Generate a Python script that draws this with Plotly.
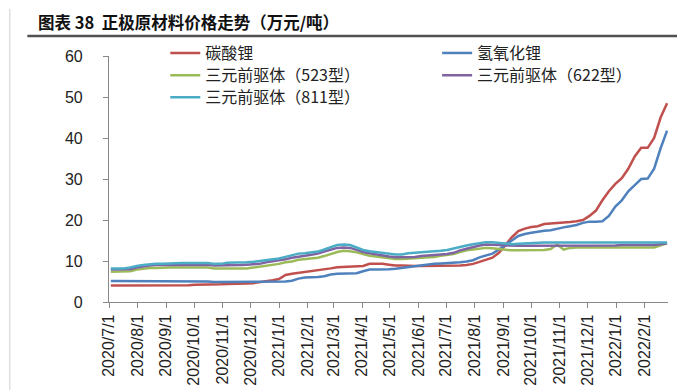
import pandas as pd
import plotly.graph_objects as go

# ---------------- data ----------------
dates = pd.date_range("2020-07-03", periods=87, freq="7D")

tick_dates = pd.date_range("2020-07-01", "2022-02-01", freq="MS")
tick_labels = [f"{d.year}/{d.month}/{d.day}" for d in tick_dates]

series_names = ["碳酸锂", "氢氧化锂", "三元前驱体（523型）", "三元前驱体（622型）", "三元前驱体（811型）"]

li2co3 = [4.0, 4.0, 4.0, 4.0, 4.0, 4.0, 4.0, 4.0, 4.0,
          4.1, 4.1, 4.1, 4.1, 4.2, 4.2, 4.2, 4.3, 4.3, 4.4, 4.4, 4.5, 4.5,
          4.6, 4.8, 5.0, 5.3, 5.6, 6.6, 6.9, 7.1, 7.3, 7.5, 7.7, 7.9, 8.2, 8.5,
          8.6, 8.7, 8.8, 8.8, 9.3, 9.3, 9.3, 9.1, 8.9, 8.9,
          8.8, 8.8, 8.8, 8.8, 8.8, 8.8, 8.8, 8.8,
          8.9, 9.0, 9.3, 9.8, 10.3, 10.8, 12.0, 13.8, 15.8, 17.3, 17.9, 18.3, 18.5,
          19.0, 19.1, 19.2, 19.4, 19.5, 19.7, 20.0, 21.0, 22.3, 24.8, 27.0, 28.8,
          30.2, 32.5, 35.5, 37.6, 37.6, 40.0, 45.0, 48.5]

lioh = [5.1, 5.1, 5.1, 5.1, 5.1,
        5.0, 5.0, 5.0, 5.0, 5.0, 5.0, 5.0, 5.0, 5.0, 5.0, 5.0,
        4.9, 4.9, 4.9, 4.9, 4.9, 4.9, 4.9, 4.9, 4.9, 4.9,
        5.0, 5.0, 5.2, 5.7, 6.0, 6.0, 6.1, 6.3, 6.7, 6.9,
        6.9, 6.9, 7.0, 7.5, 7.9, 7.9, 7.9, 8.0, 8.1, 8.3,
        8.5, 8.7, 9.0, 9.2, 9.3, 9.4, 9.5, 9.5, 9.7, 9.9,
        10.2, 10.9, 11.3, 11.8, 12.8, 13.8, 15.0, 16.1, 16.6, 16.9,
        17.2, 17.4, 17.5, 17.9, 18.2, 18.5, 18.8, 19.3, 19.6, 19.6,
        19.7, 21.0, 23.3, 24.8, 27.0, 28.5, 30.0, 30.1, 32.5, 37.5,
        41.8]

ncm523 = [7.4, 7.4, 7.4, 7.5, 7.9, 8.1, 8.3, 8.3, 8.4, 8.4,
          8.4, 8.4, 8.4, 8.4, 8.4, 8.4,
          8.2, 8.2, 8.2, 8.2, 8.2, 8.2,
          8.4, 8.6, 8.8, 9.0, 9.3, 9.7, 9.9, 10.3, 10.5, 10.7,
          10.8, 11.2, 11.7, 12.2, 12.5, 12.4, 12.1, 11.7, 11.3, 11.1,
          10.9, 10.7, 10.5, 10.5, 10.6, 10.7, 10.8, 10.8, 11.0, 11.3,
          11.5, 11.7, 12.2, 12.6, 12.8, 13.0, 13.2, 13.1, 12.9, 12.7,
          12.6, 12.6, 12.6, 12.6, 12.6, 12.7, 12.9, 14.0, 12.8, 13.2,
          13.3, 13.3, 13.3, 13.3, 13.3, 13.3, 13.3, 13.3, 13.3, 13.3, 13.3, 13.3, 13.3,
          13.8, 14.3]

ncm622 = [7.9, 7.9, 7.9, 8.0, 8.4, 8.7, 8.9, 9.0, 9.0, 9.1,
          9.1, 9.1, 9.1, 9.1, 9.1, 9.1,
          8.9, 8.9, 9.0, 9.0, 9.0, 9.1, 9.2,
          9.3, 9.7, 9.9, 10.1, 10.4, 10.8, 11.1, 11.3, 11.5, 11.8,
          12.3, 12.8, 13.2, 13.3, 13.2, 12.7, 12.2, 11.9, 11.6, 11.4,
          11.1, 10.9, 10.9, 10.9, 11.0, 11.2, 11.3, 11.4, 11.6, 11.7,
          12.0, 12.6, 13.0, 13.4, 13.8, 14.0, 14.0, 13.9, 13.8,
          13.7, 13.7, 13.7, 13.7, 13.7, 13.7, 13.7, 13.7, 13.7,
          13.8, 13.8, 13.8, 13.8, 13.8, 13.8, 13.8, 13.8,
          13.9, 13.9, 13.9, 13.9, 13.9, 13.9,
          14.1, 14.3]

ncm811 = [8.2, 8.2, 8.2, 8.4, 8.8, 9.0, 9.2, 9.3, 9.3, 9.4,
          9.5, 9.5, 9.5, 9.5, 9.5, 9.5,
          9.3, 9.3, 9.6, 9.6, 9.6, 9.7, 9.8, 10.0, 10.2, 10.4,
          10.6, 11.0, 11.4, 11.8, 11.9, 12.1, 12.3, 12.8, 13.4, 13.9,
          14.0, 13.9, 13.3, 12.7, 12.4, 12.2, 12.0, 11.7, 11.6, 11.6,
          11.9, 12.0, 12.1, 12.3, 12.4, 12.5, 12.7, 13.1, 13.4, 13.8,
          14.1, 14.4, 14.6, 14.6, 14.4, 14.2, 14.1, 14.2, 14.3, 14.4,
          14.5, 14.5, 14.5, 14.5, 14.5, 14.5, 14.5, 14.5, 14.5, 14.5,
          14.5, 14.5, 14.5, 14.5, 14.5, 14.5, 14.5, 14.5, 14.5, 14.5, 14.5]

all_values = [li2co3, lioh, ncm523, ncm622, ncm811]
colors = ["#C0504D", "#4F81BD", "#9BBB59", "#8064A2", "#4BACC6"]

for v in all_values:
    assert len(v) == len(dates), len(v)

# ---------------- figure ----------------
W, H = 685, 390
L, R, T, B = 100.7, 25, 48, 91.5
pw, ph = W - L - R, H - T - B

def px_x(x):
    return (x - L) / pw

def px_y(y):
    return (H - B - y) / ph

FONT = "Liberation Sans, Arial, Noto Sans CJK SC, sans-serif"
CJK = "Noto Sans CJK SC, Liberation Sans, sans-serif"

# legend slot (left pixel of legend box, top pixel) for each series
legend_ids = ["legend", "legend2", "legend3", "legend4", "legend5"]
col_x = [157, 429, 157, 429, 157]
row_top = [27.7, 27.7, 50.3, 50.3, 72.7]

fig = go.Figure()
for name, vals, col, lid in zip(series_names, all_values, colors, legend_ids):
    fig.add_trace(go.Scatter(x=dates, y=vals, mode="lines", name=name,
                             line=dict(color=col, width=2.5), legend=lid))

legend_layouts = {}
for lid, lx, ly in zip(legend_ids, col_x, row_top):
    legend_layouts[lid] = dict(orientation="v", x=px_x(lx), xanchor="left",
                               y=px_y(ly), yanchor="top",
                               font=dict(family=CJK, size=16, color="#222222"),
                               bgcolor="rgba(0,0,0,0)", borderwidth=0,
                               itemwidth=30)

fig.update_layout(
    width=W, height=H,
    margin=dict(l=L, r=R, t=T, b=B, pad=0),
    paper_bgcolor="white", plot_bgcolor="white",
    font=dict(family=FONT, size=16, color="#222222"),
    title=dict(text="<b>图表\u00a038\u00a0\u00a0正极原材料价格走势（万元/吨）</b>",
               x=30 / W, xanchor="left", xref="container",
               y=1 - 15 / H, yanchor="middle", yref="container",
               font=dict(family=CJK, size=16.5, color="#111111")),
    showlegend=True,
    xaxis=dict(type="date",
               range=["2020-07-01", "2022-02-26"],
               tickvals=tick_dates, ticktext=tick_labels,
               tickangle=-90, ticks="outside", ticklen=5, tickcolor="#888888",
               showline=True, linecolor="#888888", linewidth=1.2,
               showgrid=False, zeroline=False,
               tickfont=dict(family=FONT, size=16, color="#222222")),
    yaxis=dict(range=[0, 60], tickvals=[0, 10, 20, 30, 40, 50, 60],
               ticks="outside", ticklen=5, tickcolor="#888888",
               showline=True, linecolor="#888888", linewidth=1.2,
               showgrid=False, zeroline=False,
               ticklabelstandoff=17,
               tickfont=dict(family=FONT, size=16, color="#222222")),
    **legend_layouts,
)

# title underline
fig.add_shape(type="line", xref="paper", yref="paper",
              x0=px_x(19), x1=px_x(686), y0=px_y(27.7), y1=px_y(27.7),
              line=dict(color="#505050", width=2.5))
# left border
fig.add_shape(type="line", xref="paper", yref="paper",
              x0=px_x(1.5), x1=px_x(1.5), y0=px_y(0), y1=px_y(390),
              line=dict(color="#d0d0d0", width=1))

fig.write_html("out.html")
